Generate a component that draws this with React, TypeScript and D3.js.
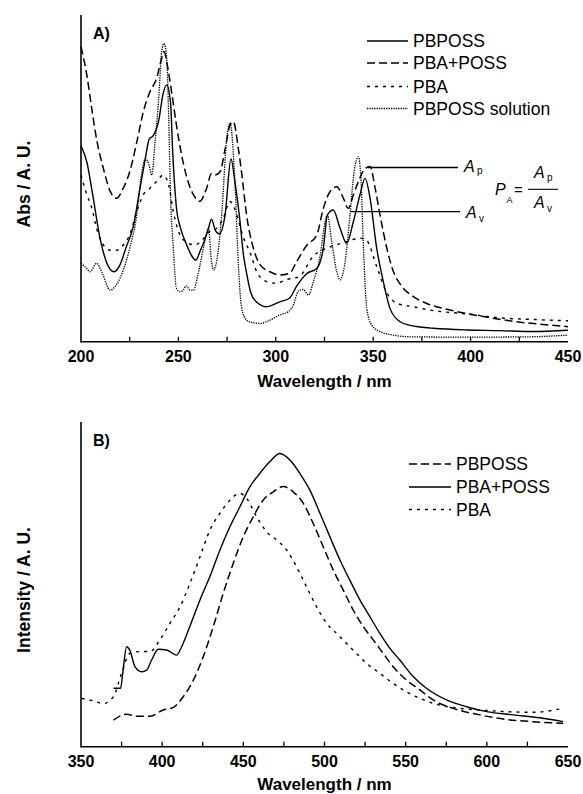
import React from "react";
import * as d3 from "d3";

// ---------- Panel A: absorbance ----------
const aSolidWl = [200,203,206,210,213,217,220,223,227,230,233,235,237,240,242,244,246,247,249,251,254,259,261,265,267,269,271,274,277,279,281.6,283.3,285,287,290,295,302,307,311,316,321,324.4,326.5,329.5,333,336.4,339.8,343.2,345.8,348.4,351.8,355.2,358.6,363.8,369,374,381,398,415,432,450];
const aSolidV = [60,55,45,31,24.5,21.4,23.5,28.6,35.7,46,56,62,63,68,75.5,78.6,73,59,41,35,30,25,27.5,33.7,37.5,34,33,39,56,49,37,27,21,15.3,12.2,10.7,12.2,13.3,17.3,20.9,22.4,28.6,38.8,40.3,34.7,30.1,36.7,44.9,50,43.9,28.6,18.4,10.2,6.1,5,4.5,4.1,3.6,3.4,3.1,3.5];

const aDashWl = [200,203,205.5,208,211.5,215,218.3,221.7,225,228.6,232,235.4,238.8,241.4,242.6,244.3,246.5,249,251.7,254,257.7,261,264.5,267,268.8,271.4,274,276.5,278.2,280.8,282.4,285,288.5,292,297,302,307,310.7,316,321,324.4,327.8,331.3,334.7,337.2,339.8,342.4,345.8,348.4,351,353.5,357,360.4,364,370.6,377.5,389.4,406.5,423.6,440.7,450];
const aDashV = [90.3,81.6,71.4,62,53,46,43.9,47,52,61,70.4,76.5,80.6,86.7,88.8,84.7,76.5,66.3,57,51,45,43,47,51.5,51,52,59,66.3,67.3,59,52,38.8,28.6,23.5,21.4,20.4,20.9,24.5,29.6,32.6,40.8,45.9,47.4,43.9,40.8,44.9,49,53,53.6,47,38.8,28.6,21.4,17.5,13.8,11.7,9.7,7.7,6.1,5.1,4.6];

const aPbaWl = [200,203,205.5,208,211.5,215,218.3,221.7,225,228.6,232,235.4,238.8,242.2,245,247.4,250.8,254,258.5,262,266,269.6,273,276.5,280,283.3,287,290.2,295.3,300.4,305.5,312,319,328,336.4,343,346.6,351.8,357,362,370.6,381,398,415,432,450];
const aPbaV = [51,45,41,34.7,29.6,28,28,29.6,32.7,39.8,45,47,49,51,48,39.8,32.7,30.6,29.6,31,33.7,34.7,37.8,42.9,38.8,32,27,21.4,18.4,17.9,19,19.9,26,29,30.6,31.7,31,23,14.9,11.8,10.7,9.5,8.5,7.3,6.8,6.4];

const aSolnWl = [200,203,204.6,208,210.6,215,218,222,225,228.6,231,233,235,236.3,238,240,241.4,242.6,244,245,246,247.4,249,250.8,252.5,254,256,257.7,260,262.8,265.4,267,268,269.6,272.2,274.8,276.5,279,280.8,282.5,285,287,292,297,302,306.5,309,311.6,314,316.8,319.3,322.8,325.3,326.5,328.7,331.3,333,335.6,338.1,340.2,342.4,343.6,345,346.7,349.2,353.5,360.4,369,400,430,450];
const aSolnV = [24,22.4,21.4,24,21.4,15.8,17.3,22.4,28.6,38.8,51,56,54,51,61,75.5,88.8,91.3,86.7,69,44,28.6,16.3,15.3,15.8,17.1,15.8,15.8,20.4,28.6,34.7,24.5,22,24.5,38.8,62,67,49,23.5,10.2,6.6,6,5.6,6.6,8.2,9.2,11.2,15.5,16,14.3,18.4,26.5,36.7,38.8,30.6,21.4,18.9,24.5,38.8,52,56.6,51,28.6,10.2,5.1,3.1,2,1.5,1.4,1.5,2];

const aTicks = [200, 250, 300, 350, 400, 450];
const aMinor = [225, 275, 325, 375, 425];
const aLegend = ["PBPOSS", "PBA+POSS", "PBA", "PBPOSS solution"];

// ---------- Panel B: fluorescence ----------
const bSolidWl = [370,374.4,375.7,378.1,380,383.3,387.4,390.4,393.5,397.6,402.7,408.9,412,417,423.3,429.4,435.6,441.8,447.9,454,460.2,466.4,472.5,478.7,484.8,491,497.2,503.3,509.5,515.6,521.8,528,534.1,540.3,546.4,554.6,562.8,575.2,587.5,599.8,616.2,632.6,647];
const bSolidV = [18,18,22.6,30.8,29.8,24.6,23.1,23.6,26.7,30,29.8,28.2,30.8,37,45.2,52.4,60.6,67.8,73.9,80,84.2,87.8,90.3,88.3,84.2,79,71.9,64.7,57.5,51.3,45.2,40,34.9,30.3,26.7,21.6,18,14.4,12.3,10.8,9.8,8.9,7.7];

const bDashWl = [370,378,384.3,392.5,400.7,406.9,413,419.2,425.3,431.5,437.6,443.8,450,456.1,462.3,468.4,474.6,480.7,486.9,493,499.2,505.4,511.5,517.7,523.9,530,536.2,542.3,550.5,558.7,566.9,579.2,595.6,612.1,628.5,647];
const bDashV = [8.2,10,9.4,9.4,11.3,12.1,15.4,20.5,27.7,37,47.2,56.5,64.7,70.8,76,78.5,80.1,78.5,75,68.8,61.6,54.4,48.3,42.1,37,32.9,28.7,24.6,20.5,17.5,14.4,11.8,9.8,8.4,7.7,7.2];

const bPbaWl = [350.4,357.6,363.8,370,375,380,386.3,392.5,398.6,404.8,411,417.1,423.3,429.4,435.6,441.8,447.9,452,458.2,464.3,470.5,476.6,482.8,488.9,495.1,501.3,507.4,513.6,519.7,525.9,534.1,542.3,550.5,558.7,571,583.3,595.6,612.1,628.5,647];
const bPbaV = [14.9,14.1,13.3,15.4,22.6,28.7,29.3,29.3,32.9,38,43.1,50.3,58.5,66.7,71.9,76,78,76.5,70.8,66.2,63.7,60.6,55.4,49.3,43.1,38,34.9,31.8,28.7,25.7,22.6,19.5,16.9,14.9,12.8,11.8,11.3,10.8,10.6,11.8];

const bTicks = [350, 400, 450, 500, 550, 600, 650];
const bMinor = [375, 425, 475, 525, 575, 625];
const bLegend = ["PBPOSS", "PBA+POSS", "PBA"];

const FONT = "'Liberation Sans', Arial, Helvetica, sans-serif";

const DASH = "8,4";
const SPARSE = "3,5";
const DENSE = "1.3,1.1";

function zip(wl: number[], v: number[]): [number, number][] {
  return wl.map((w, i) => [w, v[i]]);
}

type PanelProps = {
  xDomain: [number, number];
  top: number;
  bottom: number;
  ticks: number[];
  minor: number[];
  yLabel: string;
  yLabelCenter: number;
  tag: string;
  titleOffset: number;
  series: { wl: number[]; v: number[]; dash: string | null; width: number }[];
};

function Panel({ xDomain, top, bottom, ticks, minor, yLabel, yLabelCenter, tag, titleOffset, series }: PanelProps) {
  const left = 81, right = 568;
  const x = d3.scaleLinear().domain(xDomain).range([left, right]);
  const y = d3.scaleLinear().domain([0, 100]).range([bottom, top]);
  const line = d3
    .line<[number, number]>()
    .x((d) => x(d[0]))
    .y((d) => y(d[1]))
    .curve(d3.curveMonotoneX);
  return (
    <g>
      {series.map((s, i) => (
        <path
          key={i}
          d={line(zip(s.wl, s.v)) || ""}
          fill="none"
          stroke="#000"
          strokeWidth={s.width}
          strokeDasharray={s.dash || undefined}
        />
      ))}
      <line x1={left} y1={top} x2={left} y2={bottom + 0.75} stroke="#000" strokeWidth={1.6} />
      <line x1={left} y1={bottom} x2={right} y2={bottom} stroke="#000" strokeWidth={1.6} />
      {[...ticks, ...minor]
        .filter((t) => t !== xDomain[0] && t !== xDomain[1])
        .map((t) => (
          <line key={"t" + t} x1={x(t)} x2={x(t)} y1={bottom} y2={bottom - 5} stroke="#000" strokeWidth={1.3} />
        ))}
      {ticks.map((t) => (
        <text
          key={"l" + t}
          x={x(t)}
          y={bottom + 20.5}
          textAnchor="middle"
          fontFamily={FONT}
          fontWeight="bold"
          fontSize={16}
        >
          {t}
        </text>
      ))}
      <text
        x={(left + right) / 2}
        y={bottom + titleOffset}
        textAnchor="middle"
        fontFamily={FONT}
        fontWeight="bold"
        fontSize={17}
      >
        Wavelength / nm
      </text>
      <text
        transform={`translate(30,${yLabelCenter}) rotate(-90)`}
        textAnchor="middle"
        fontFamily={FONT}
        fontWeight="bold"
        fontSize={17.5}
      >
        {yLabel}
      </text>
      <text x={93} y={top + 23.5} fontFamily={FONT} fontWeight="bold" fontSize={16}>
        {tag}
      </text>
    </g>
  );
}

function LegendRow({ x1, x2, y, dash, width, label }: { x1: number; x2: number; y: number; dash: string | null; width: number; label: string }) {
  return (
    <g>
      <line x1={x1} x2={x2} y1={y} y2={y} stroke="#000" strokeWidth={width} strokeDasharray={dash || undefined} />
      <text x={x2 + 5} y={y + 6.2} fontFamily={FONT} fontSize={17.5}>
        {label}
      </text>
    </g>
  );
}

export default function App() {
  const aStyles = [
    { dash: null, width: 1.4 },
    { dash: DASH, width: 1.5 },
    { dash: SPARSE, width: 1.4 },
    { dash: DENSE, width: 1.3 },
  ];
  const aSeries = [
    { wl: aSolidWl, v: aSolidV, ...aStyles[0] },
    { wl: aDashWl, v: aDashV, ...aStyles[1] },
    { wl: aPbaWl, v: aPbaV, ...aStyles[2] },
    { wl: aSolnWl, v: aSolnV, ...aStyles[3] },
  ];
  const bStyles = [
    { dash: DASH, width: 1.5 },
    { dash: null, width: 1.4 },
    { dash: SPARSE, width: 1.4 },
  ];
  const bSeries = [
    { wl: bDashWl, v: bDashV, ...bStyles[0] },
    { wl: bSolidWl, v: bSolidV, ...bStyles[1] },
    { wl: bPbaWl, v: bPbaV, ...bStyles[2] },
  ];
  const aLegY = [41, 63, 86.5, 108.5];
  const bLegY = [464, 487, 509.5];
  const it = { fontFamily: FONT, fontStyle: "italic" as const };
  return (
    <svg
      width={583}
      height={794}
      style={{ position: "absolute", left: 0, top: 0, background: "#fff" }}
    >
      <rect width={583} height={794} fill="#fff" />
      <Panel
        xDomain={[200, 450]}
        top={15}
        bottom={341.7}
        ticks={aTicks}
        minor={aMinor}
        yLabel="Abs / A. U."
        yLabelCenter={184}
        tag="A)"
        titleOffset={45}
        series={aSeries}
      />
      <Panel
        xDomain={[350, 650]}
        top={422}
        bottom={746.7}
        ticks={bTicks}
        minor={bMinor}
        yLabel="Intensity / A. U."
        yLabelCenter={590}
        tag="B)"
        titleOffset={43.5}
        series={bSeries}
      />
      {aLegend.map((l, i) => (
        <LegendRow key={l} x1={367} x2={408} y={aLegY[i]} label={l} {...aStyles[i]} />
      ))}
      {bLegend.map((l, i) => (
        <LegendRow key={l} x1={409} x2={451} y={bLegY[i]} label={l} {...bStyles[i]} />
      ))}
      {/* annotation */}
      <line x1={367} x2={458} y1={167.5} y2={167.5} stroke="#000" strokeWidth={1.3} />
      <line x1={351} x2={460} y1={211.7} y2={211.7} stroke="#000" strokeWidth={1.3} />
      <text x={464} y={171.5} fontSize={16} {...it}>A</text>
      <text x={477} y={174} fontSize={10} fontFamily={FONT}>p</text>
      <text x={466} y={218} fontSize={16} {...it}>A</text>
      <text x={479} y={222} fontSize={10} fontFamily={FONT}>v</text>
      <text x={495} y={195} fontSize={16} {...it}>P</text>
      <text x={506.5} y={203} fontSize={9} fontFamily={FONT}>A</text>
      <text x={514} y={195} fontSize={15} fontFamily={FONT}>=</text>
      <text x={534} y={178} fontSize={16} {...it}>A</text>
      <text x={547} y={181} fontSize={10} fontFamily={FONT}>p</text>
      <line x1={528} x2={558} y1={189.3} y2={189.3} stroke="#000" strokeWidth={1.1} />
      <text x={534} y={208} fontSize={16} {...it}>A</text>
      <text x={547} y={212} fontSize={10} fontFamily={FONT}>v</text>
    </svg>
  );
}
